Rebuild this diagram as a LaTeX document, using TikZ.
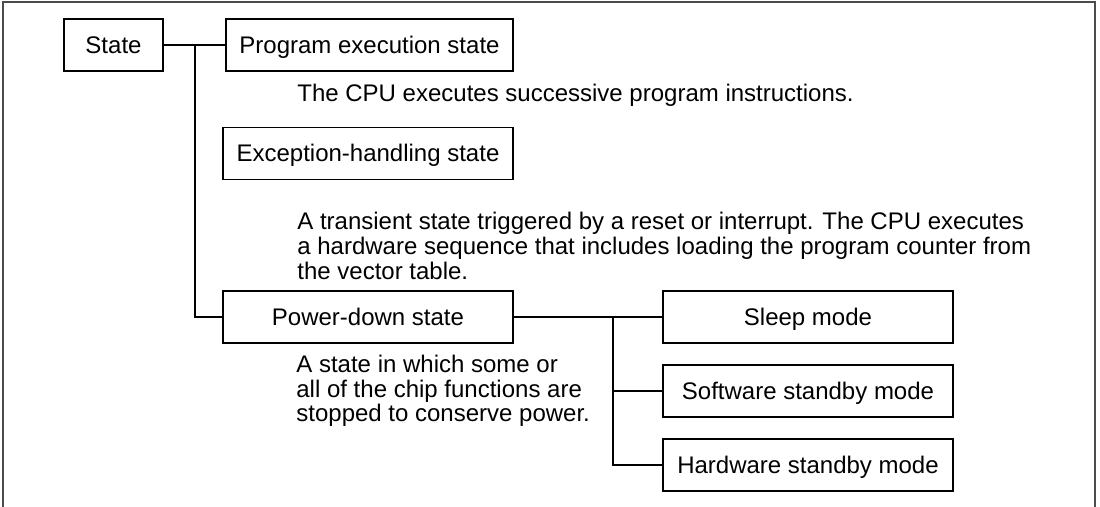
\documentclass[tikz,border=0pt]{standalone}
\usepackage{fontspec}
\setmainfont{Liberation Sans}
\usetikzlibrary{positioning}
\tikzset{
statebox/.style={draw=black, line width=0.65pt, minimum width=145pt, minimum height=26pt, inner sep=0pt, text height=0.86em, text depth=0.04em, align=center},
statenote/.style={anchor=west, align=left, inner sep=0pt},
stateline/.style={draw=black, line width=0.55pt},
stateframe/.style={draw=black!70, line width=0.8pt}
}

\begin{document}
\begin{tikzpicture}[x=0.5pt, y=-0.5pt, font=\fontsize{12}{12.3}\selectfont]
  \useasboundingbox (0,0) rectangle (1100,507);
  \draw[stateframe] (3,520) -- (3,2) -- (1095,2) -- (1095,520);
  \node[statebox, minimum width=49.5pt] (state) at (113.5,45) {State};
  \node[statebox, minimum width=143.5pt] (prog) at (369.5,45) {Program execution state};
  \node[statebox] (exc) at (368,153.5) {Exception-handling state};
  \node[statebox] (power) at (368,317) {Power-down state};
  \node[statebox] (sleep) at (808,317) {Sleep mode};
  \node[statebox] (soft) at (808,391) {Software standby mode};
  \node[statebox] (hard) at (808,465) {Hardware standby mode};
  \node[statenote] (prognote) at (297,95) {The CPU executes successive program instructions.};
  \node[statenote] (excnote) at (297,246) {A transient state triggered by a reset or interrupt. The CPU executes\\a hardware sequence that includes loading the program counter from\\the vector table.};
  \node[statenote] (powernote) at (296,391) {A state in which some or\\all of the chip functions are\\stopped to conserve power.};
  \coordinate (trunk) at (195,45);
  \coordinate (branch) at (613,317);
  \draw[stateline] (state) -- (prog);
  \draw[stateline] (trunk) |- (power.west);
  \draw[stateline] (power) -- (sleep);
  \draw[stateline] (branch) |- (soft.west);
  \draw[stateline] (branch) |- (hard.west);
\end{tikzpicture}
\end{document}
